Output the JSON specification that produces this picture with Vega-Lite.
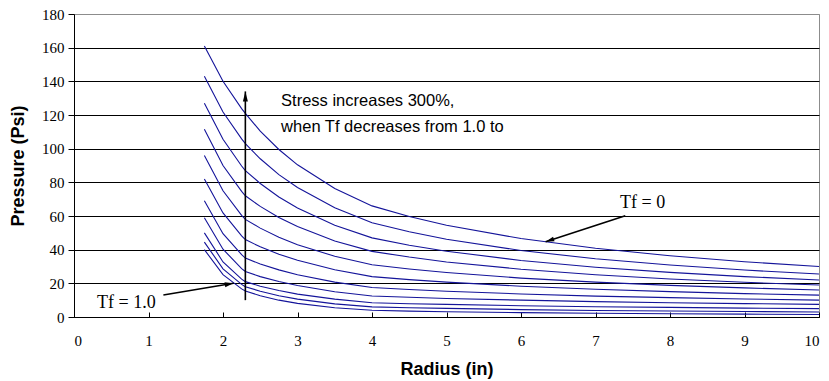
{
  "$schema": "https://vega.github.io/schema/vega-lite/v6.json",
  "width": 745,
  "height": 303,
  "autosize": {"type": "none"},
  "padding": {"left": 74, "top": 14, "right": 10, "bottom": 64},
  "background": "white",
  "config": {"view": {"stroke": "#8c8c8c", "strokeWidth": 1}, "font": "Liberation Sans"},
  "datasets": {
    "curves": [
      {"c":0,"r":1.75,"p":161},{"c":0,"r":2,"p":140},{"c":0,"r":2.25,"p":123.8},{"c":0,"r":2.3,"p":121},{"c":0,"r":2.5,"p":110.4},{"c":0,"r":2.75,"p":99.5},{"c":0,"r":3,"p":90.4},{"c":0,"r":3.5,"p":76.4},{"c":0,"r":4,"p":66},{"c":0,"r":4.5,"p":59.7},{"c":0,"r":5,"p":54.5},{"c":0,"r":6,"p":46.6},{"c":0,"r":7,"p":40.8},{"c":0,"r":8,"p":36.4},{"c":0,"r":9,"p":32.8},{"c":0,"r":10,"p":30},
      {"c":1,"r":1.75,"p":143},{"c":1,"r":2,"p":121.8},{"c":1,"r":2.25,"p":105.8},{"c":1,"r":2.3,"p":103},{"c":1,"r":2.5,"p":94},{"c":1,"r":2.75,"p":84.6},{"c":1,"r":3,"p":76.9},{"c":1,"r":3.5,"p":64.9},{"c":1,"r":4,"p":56},{"c":1,"r":4.5,"p":50.6},{"c":1,"r":5,"p":46.2},{"c":1,"r":6,"p":39.5},{"c":1,"r":7,"p":34.6},{"c":1,"r":8,"p":30.9},{"c":1,"r":9,"p":27.9},{"c":1,"r":10,"p":25.5},
      {"c":2,"r":1.75,"p":127},{"c":2,"r":2,"p":105.6},{"c":2,"r":2.25,"p":89.7},{"c":2,"r":2.3,"p":87},{"c":2,"r":2.5,"p":79.3},{"c":2,"r":2.75,"p":71.3},{"c":2,"r":3,"p":64.7},{"c":2,"r":3.5,"p":54.5},{"c":2,"r":4,"p":47},{"c":2,"r":4.5,"p":42.6},{"c":2,"r":5,"p":39.1},{"c":2,"r":6,"p":33.6},{"c":2,"r":7,"p":29.6},{"c":2,"r":8,"p":26.5},{"c":2,"r":9,"p":24},{"c":2,"r":10,"p":22},
      {"c":3,"r":1.75,"p":111.5},{"c":3,"r":2,"p":90},{"c":3,"r":2.25,"p":74.6},{"c":3,"r":2.3,"p":72},{"c":3,"r":2.5,"p":65.7},{"c":3,"r":2.75,"p":59.1},{"c":3,"r":3,"p":53.7},{"c":3,"r":3.5,"p":45.2},{"c":3,"r":4,"p":39},{"c":3,"r":4.5,"p":35.6},{"c":3,"r":5,"p":32.7},{"c":3,"r":6,"p":28.4},{"c":3,"r":7,"p":25.1},{"c":3,"r":8,"p":22.6},{"c":3,"r":9,"p":20.6},{"c":3,"r":10,"p":19},
      {"c":4,"r":1.75,"p":96},{"c":4,"r":2,"p":75},{"c":4,"r":2.25,"p":60.4},{"c":4,"r":2.3,"p":58},{"c":4,"r":2.5,"p":52.8},{"c":4,"r":2.75,"p":47.4},{"c":4,"r":3,"p":42.9},{"c":4,"r":3.5,"p":36.1},{"c":4,"r":4,"p":31},{"c":4,"r":4.5,"p":28.5},{"c":4,"r":5,"p":26.4},{"c":4,"r":6,"p":23.1},{"c":4,"r":7,"p":20.7},{"c":4,"r":8,"p":18.8},{"c":4,"r":9,"p":17.3},{"c":4,"r":10,"p":16},
      {"c":5,"r":1.75,"p":82},{"c":5,"r":2,"p":61.8},{"c":5,"r":2.25,"p":48.2},{"c":5,"r":2.3,"p":46},{"c":5,"r":2.5,"p":41.7},{"c":5,"r":2.75,"p":37.3},{"c":5,"r":3,"p":33.7},{"c":5,"r":3.5,"p":28.1},{"c":5,"r":4,"p":24},{"c":5,"r":4.5,"p":22.2},{"c":5,"r":5,"p":20.7},{"c":5,"r":6,"p":18.3},{"c":5,"r":7,"p":16.5},{"c":5,"r":8,"p":15.1},{"c":5,"r":9,"p":13.9},{"c":5,"r":10,"p":13},
      {"c":6,"r":1.75,"p":69},{"c":6,"r":2,"p":49.5},{"c":6,"r":2.25,"p":37},{"c":6,"r":2.3,"p":35},{"c":6,"r":2.5,"p":31.5},{"c":6,"r":2.75,"p":28},{"c":6,"r":3,"p":25.1},{"c":6,"r":3.5,"p":20.7},{"c":6,"r":4,"p":17.5},{"c":6,"r":4.5,"p":16.3},{"c":6,"r":5,"p":15.3},{"c":6,"r":6,"p":13.7},{"c":6,"r":7,"p":12.4},{"c":6,"r":8,"p":11.5},{"c":6,"r":9,"p":10.7},{"c":6,"r":10,"p":10},
      {"c":7,"r":1.75,"p":59},{"c":7,"r":2,"p":40.3},{"c":7,"r":2.25,"p":28.7},{"c":7,"r":2.3,"p":27},{"c":7,"r":2.5,"p":24},{"c":7,"r":2.75,"p":21.1},{"c":7,"r":3,"p":18.7},{"c":7,"r":3.5,"p":15},{"c":7,"r":4,"p":12.5},{"c":7,"r":4.5,"p":11.7},{"c":7,"r":5,"p":11},{"c":7,"r":6,"p":10},{"c":7,"r":7,"p":9.15},{"c":7,"r":8,"p":8.5},{"c":7,"r":9,"p":7.95},{"c":7,"r":10,"p":7.5},
      {"c":8,"r":1.75,"p":50},{"c":8,"r":2,"p":32.7},{"c":8,"r":2.25,"p":22.5},{"c":8,"r":2.3,"p":21},{"c":8,"r":2.5,"p":18.3},{"c":8,"r":2.75,"p":15.7},{"c":8,"r":3,"p":13.6},{"c":8,"r":3.5,"p":10.6},{"c":8,"r":4,"p":8.5},{"c":8,"r":4.5,"p":7.9},{"c":8,"r":5,"p":7.5},{"c":8,"r":6,"p":6.7},{"c":8,"r":7,"p":6.1},{"c":8,"r":8,"p":5.7},{"c":8,"r":9,"p":5.3},{"c":8,"r":10,"p":5},
      {"c":9,"r":1.75,"p":44.5},{"c":9,"r":2,"p":28.6},{"c":9,"r":2.25,"p":19.4},{"c":9,"r":2.3,"p":18},{"c":9,"r":2.5,"p":15.3},{"c":9,"r":2.75,"p":12.6},{"c":9,"r":3,"p":10.6},{"c":9,"r":3.5,"p":7.8},{"c":9,"r":4,"p":6},{"c":9,"r":4.5,"p":5.5},{"c":9,"r":5,"p":5.1},{"c":9,"r":6,"p":4.4},{"c":9,"r":7,"p":3.9},{"c":9,"r":8,"p":3.55},{"c":9,"r":9,"p":3.25},{"c":9,"r":10,"p":3},
      {"c":10,"r":1.75,"p":40},{"c":10,"r":2,"p":25.2},{"c":10,"r":2.25,"p":16.7},{"c":10,"r":2.3,"p":15.5},{"c":10,"r":2.5,"p":12.6},{"c":10,"r":2.75,"p":10},{"c":10,"r":3,"p":8.1},{"c":10,"r":3.5,"p":5.5},{"c":10,"r":4,"p":4},{"c":10,"r":4.5,"p":3.5},{"c":10,"r":5,"p":3.15},{"c":10,"r":6,"p":2.6},{"c":10,"r":7,"p":2.2},{"c":10,"r":8,"p":1.9},{"c":10,"r":9,"p":1.7},{"c":10,"r":10,"p":1.5}
    ],
    "arrows": [
      {"id":"up","x":2.3,"y":10,"x2":2.3,"y2":134},
      {"id":"tf1","x":1.2,"y":13.1,"x2":2.14,"y2":20},
      {"id":"tf0","x":7.4,"y":60.2,"x2":6.33,"y2":44.7}
    ],
    "notes": [
      {"x":2.78,"y":125.2,"t":"Stress increases 300%,"},
      {"x":2.78,"y":109.8,"t":"when Tf decreases from 1.0 to"}
    ],
    "tf": [
      {"x":0.31,"y":5.5,"t":"Tf = 1.0"},
      {"x":7.33,"y":64.6,"t":"Tf = 0"}
    ]
  },
  "layer": [
    {
      "data": {"name": "curves"},
      "mark": {"type": "line", "color": "#14149a", "strokeWidth": 1.1, "clip": true},
      "encoding": {
        "x": {
          "field": "r", "type": "quantitative",
          "scale": {"domain": [0, 10], "nice": false, "zero": false},
          "axis": {
            "title": "Radius (in)", "values": [0,1,2,3,4,5,6,7,8,9,10], "tickCount": 30, "format": "d", "grid": false,
            "domainColor": "black", "domainWidth": 1, "tickColor": "black", "tickSize": -5,
            "labelFont": "Liberation Serif", "labelFontSize": 15, "labelColor": "black", "labelPadding": 21,
            "titleFont": "Liberation Sans", "titleFontSize": 18, "titleFontWeight": "bold", "titleColor": "black", "titlePadding": 12
          }
        },
        "y": {
          "field": "p", "type": "quantitative",
          "scale": {"domain": [0, 180], "nice": false},
          "axis": {
            "title": "Pressure (Psi)", "values": [0,20,40,60,80,100,120,140,160,180], "tickCount": 30, "format": "d", "grid": true,
            "gridColor": {"condition": {"test": "datum.value === 180", "value": "#8c8c8c"}, "value": "black"},
            "gridWidth": 1, "gridOpacity": 1,
            "domainColor": "black", "domainWidth": 1, "tickColor": "black", "tickSize": 6,
            "labelFont": "Liberation Serif", "labelFontSize": 15, "labelColor": "black", "labelPadding": 4,
            "titleFont": "Liberation Sans", "titleFontSize": 18, "titleFontWeight": "bold", "titleColor": "black", "titlePadding": 14
          }
        },
        "detail": {"field": "c", "type": "nominal"}
      }
    },
    {
      "data": {"name": "arrows"},
      "mark": {"type": "rule", "color": "black", "strokeWidth": 1.6},
      "encoding": {
        "x": {"field": "x", "type": "quantitative"},
        "y": {"field": "y", "type": "quantitative"},
        "x2": {"field": "x2"},
        "y2": {"field": "y2"}
      }
    },
    {
      "data": {"name": "arrows"},
      "transform": [{"filter": "datum.id === 'up'"}],
      "mark": {"type": "point", "shape": "M0,0L-0.25,1L0.25,1Z", "filled": true, "color": "black", "opacity": 1, "size": 400, "angle": 0},
      "encoding": {"x": {"field": "x2", "type": "quantitative"}, "y": {"field": "y2", "type": "quantitative"}}
    },
    {
      "data": {"name": "arrows"},
      "transform": [{"filter": "datum.id === 'tf1'"}],
      "mark": {"type": "point", "shape": "M0,0L-0.28,1L0.28,1Z", "filled": true, "color": "black", "opacity": 1, "size": 300, "angle": 80.5},
      "encoding": {"x": {"field": "x2", "type": "quantitative"}, "y": {"field": "y2", "type": "quantitative"}}
    },
    {
      "data": {"name": "arrows"},
      "transform": [{"filter": "datum.id === 'tf0'"}],
      "mark": {"type": "point", "shape": "M0,0L-0.28,1L0.28,1Z", "filled": true, "color": "black", "opacity": 1, "size": 300, "angle": 251.8},
      "encoding": {"x": {"field": "x2", "type": "quantitative"}, "y": {"field": "y2", "type": "quantitative"}}
    },
    {
      "data": {"name": "notes"},
      "mark": {"type": "text", "align": "left", "baseline": "alphabetic", "font": "Liberation Sans", "fontSize": 16.5, "color": "black"},
      "encoding": {
        "x": {"field": "x", "type": "quantitative"},
        "y": {"field": "y", "type": "quantitative"},
        "text": {"field": "t"}
      }
    },
    {
      "data": {"name": "tf"},
      "mark": {"type": "text", "align": "left", "baseline": "alphabetic", "font": "Liberation Serif", "fontSize": 18, "color": "black"},
      "encoding": {
        "x": {"field": "x", "type": "quantitative"},
        "y": {"field": "y", "type": "quantitative"},
        "text": {"field": "t"}
      }
    }
  ]
}
